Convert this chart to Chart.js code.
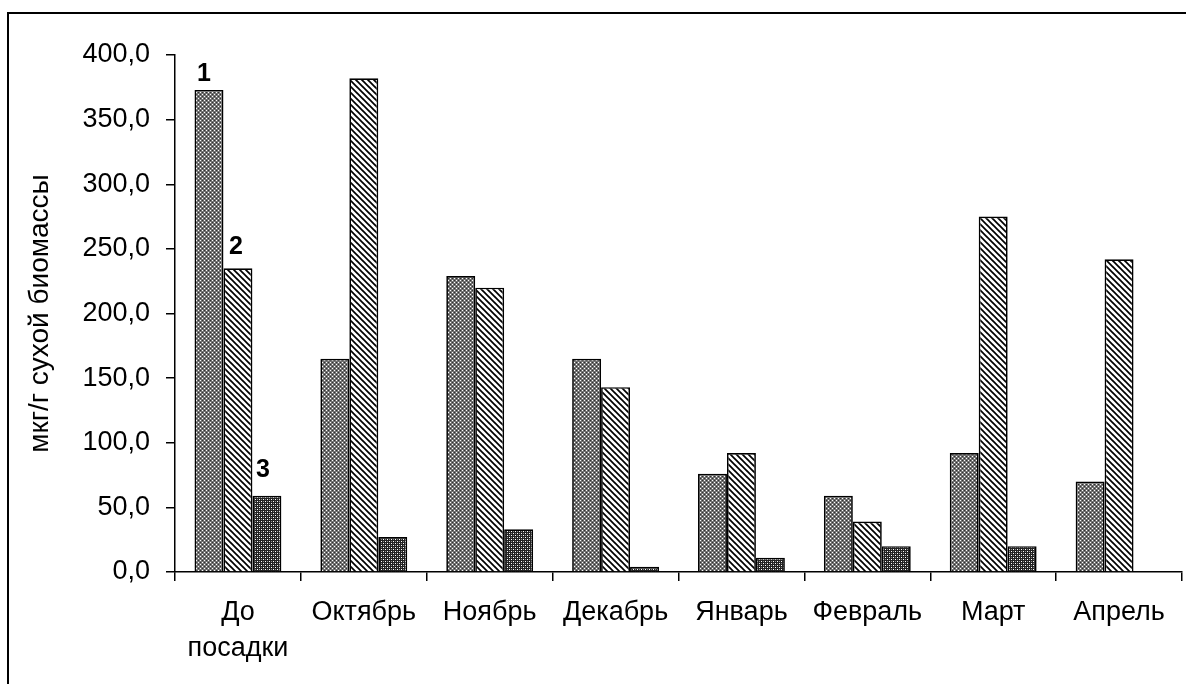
<!DOCTYPE html>
<html lang="ru">
<head>
<meta charset="utf-8">
<title>Содержание, мкг/г сухой биомассы</title>
<script src="https://cdn.jsdelivr.net/npm/chart.js@4.4.1/dist/chart.umd.min.js"></script>
<style>
  html, body { margin: 0; padding: 0; background: #fff; overflow: hidden; }
  #wrap { position: relative; width: 1186px; height: 684px; }
  #frame { position: absolute; left: 7px; top: 12px; width: 1200px; height: 700px;
           border: 2px solid #000; box-sizing: border-box; pointer-events: none; }
  canvas { position: absolute; left: 0; top: 0; }
</style>
</head>
<body>
<div id="wrap">
  <canvas id="chart" width="1186" height="684"></canvas>
  <div id="frame"></div>
</div>
<script>
// Месяцы отбора проб
const categories = [['До', 'посадки'], 'Октябрь', 'Ноябрь', 'Декабрь', 'Январь', 'Февраль', 'Март', 'Апрель'];

// Три серии, мкг/г сухой биомассы
const series1 = [373, 165, 229, 165, 76, 59, 92, 70];
const series2 = [235, 382, 220, 143, 92, 39, 275, 242];
const series3 = [59, 27, 33, 4, 11, 20, 20, null];

// Номера серий, подписанные над первой группой
const seriesNumbers = ['1', '2', '3'];

// Шкала Y
const yMin = 0;
const yMax = 400;
const yStep = 50;
const yTitle = 'мкг/г сухой биомассы';

// Штриховки столбцов
function makePattern(kind) {
  const c = document.createElement('canvas');
  const ctx = c.getContext('2d');
  if (kind === 'dots') {
    c.width = 4; c.height = 4;
    ctx.fillStyle = '#737373'; ctx.fillRect(0, 0, 4, 4);
    ctx.fillStyle = '#ffffff'; ctx.fillRect(0, 0, 1, 1); ctx.fillRect(2, 2, 1, 1);
    ctx.fillStyle = '#303030'; ctx.fillRect(2, 0, 1, 1); ctx.fillRect(0, 2, 1, 1);
  } else if (kind === 'diag') {
    c.width = 6; c.height = 6;
    ctx.fillStyle = '#ffffff'; ctx.fillRect(0, 0, 6, 6);
    ctx.strokeStyle = '#000'; ctx.lineWidth = 1.7;
    for (const o of [-6, 0, 6]) {
      ctx.beginPath(); ctx.moveTo(o - 1, -1); ctx.lineTo(o + 7, 7); ctx.stroke();
    }
  } else {
    c.width = 4; c.height = 4;
    ctx.fillStyle = '#222222'; ctx.fillRect(0, 0, 4, 4);
    ctx.fillStyle = '#ffffff'; ctx.fillRect(1, 1, 1, 1); ctx.fillRect(3, 3, 1, 1);
    ctx.fillStyle = '#909090'; ctx.fillRect(1, 3, 1, 1); ctx.fillRect(3, 1, 1, 1);
  }
  return c.getContext('2d').createPattern(c, 'repeat');
}

// Подписи номеров серий над столбцами первой группы
const seriesNumberPlugin = {
  id: 'seriesNumbers',
  afterDatasetsDraw(chart, args, opts) {
    const ctx = chart.ctx;
    ctx.save();
    ctx.font = 'bold 25px "Liberation Sans", Arial, sans-serif';
    ctx.fillStyle = '#000';
    ctx.textAlign = 'center';
    ctx.textBaseline = 'bottom';
    seriesNumbers.forEach((txt, i) => {
      const el = chart.getDatasetMeta(i).data[0];
      if (!el) return;
      ctx.fillText(txt, el.x + opts.dx[i], el.y - opts.gap[i]);
    });
    ctx.restore();
  }
};

const font = '"Liberation Sans", Arial, sans-serif';
const common = { borderColor: '#000', borderWidth: 1.7, barPercentage: 1.0, categoryPercentage: 0.69 };

new Chart(document.getElementById('chart'), {
  type: 'bar',
  data: {
    labels: categories,
    datasets: [
      Object.assign({ label: '1', data: series1, backgroundColor: makePattern('dots') }, common),
      Object.assign({ label: '2', data: series2, backgroundColor: makePattern('diag') }, common),
      Object.assign({ label: '3', data: series3, backgroundColor: makePattern('check') }, common)
    ]
  },
  options: {
    responsive: false,
    devicePixelRatio: 1,
    animation: false,
    events: [],
    layout: { padding: { left: 0, right: 4, top: 55, bottom: 0 } },
    plugins: {
      legend: { display: false },
      tooltip: { enabled: false },
      seriesNumbers: { dx: [-5, -2, -4], gap: [3, 9, 13] }
    },
    scales: {
      x: {
        grid: { display: true, drawOnChartArea: false, offset: true, color: '#000', lineWidth: 1.5, tickLength: 9 },
        border: { display: true, color: '#000', width: 1.5 },
        ticks: { color: '#000', padding: 13, maxRotation: 0, autoSkip: false,
                 font: { family: font, size: 27, lineHeight: 1.35 } },
        afterFit(scale) { scale.height = 112; }
      },
      y: {
        min: yMin, max: yMax,
        grid: { display: true, drawOnChartArea: false, color: '#000', lineWidth: 1.5, tickLength: 9 },
        border: { display: true, color: '#000', width: 1.5 },
        ticks: {
          stepSize: yStep, color: '#000', padding: 16,
          font: { family: font, size: 27 },
          callback: v => v.toFixed(1).replace('.', ',')
        },
        title: { display: true, text: yTitle, color: '#000',
                 font: { family: font, size: 28 }, padding: { top: 23, bottom: 0 } },
        afterFit(scale) { scale.width = 175; }
      }
    }
  },
  plugins: [seriesNumberPlugin]
});
</script>
</body>
</html>
